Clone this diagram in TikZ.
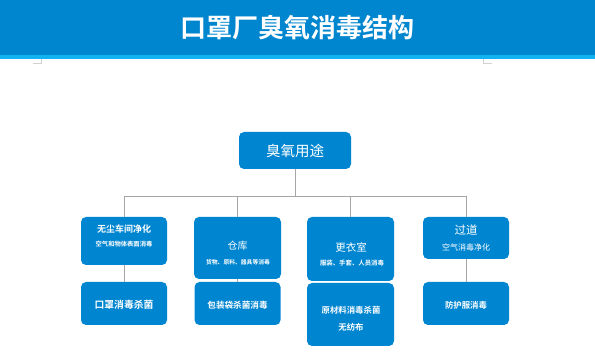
\documentclass[tikz,border=0pt]{standalone}
\usepackage{fontspec}
\setmainfont{Noto Sans CJK SC}
\newfontfamily\cjkb{Noto Sans CJK SC Bold}
\definecolor{boxblue}{HTML}{0086D1}
\definecolor{hdrblue}{HTML}{0086CF}
\definecolor{stripcyan}{HTML}{11B4F0}
\definecolor{linegray}{HTML}{A6A6A6}
\tikzset{
  bluebox/.style={fill=boxblue, draw=none, rounded corners=5pt, text=white, align=center, inner sep=0pt},
  conn/.style={draw=linegray, line width=0.8pt},
  wtxt/.style={text=white, inner sep=0pt},
}
\begin{document}
\begin{tikzpicture}[x=1pt,y=-1pt]
\useasboundingbox (0,0) rectangle (595,358);
\fill[white] (0,0) rectangle (595,358);
% header
\fill[hdrblue] (0,0) rectangle (595,55);
\fill[stripcyan] (0,55) rectangle (595,59);
\node[wtxt, font=\cjkb\fontsize{26}{26}\selectfont] (title) at (297,28) {口罩厂臭氧消毒结构};
% corner marks
\draw[gray!35, line width=0.6pt] (33,63) -- (41,63) -- (41,59);
\draw[gray!35, line width=0.6pt] (483,59) -- (483,63) -- (492,63);
% root
\node[bluebox, minimum width=112pt, minimum height=37pt, font=\fontsize{14.5}{15}\selectfont] (root) at (295,150.5) {臭氧用途};
% level 2 boxes
\node[bluebox, minimum width=86pt, minimum height=48pt] (b1) at (124,241) {};
\node[bluebox, minimum width=87pt, minimum height=62pt] (b2) at (237.5,248) {};
\node[bluebox, minimum width=87pt, minimum height=64pt] (b3) at (350.5,249) {};
\node[bluebox, minimum width=86pt, minimum height=42pt] (b4) at (466,238) {};
% level 3 boxes
\node[bluebox, minimum width=86pt, minimum height=43pt] (c1) at (124,303.5) {};
\node[bluebox, minimum width=86pt, minimum height=43pt] (c2) at (237.5,303.5) {};
\node[bluebox, minimum width=87pt, minimum height=63pt] (c3) at (350.5,314.5) {};
\node[bluebox, minimum width=86pt, minimum height=43pt] (c4) at (466,303.5) {};
% texts
\node[wtxt, font=\cjkb\fontsize{9}{9}\selectfont] (t1a) at (124,229) {无尘车间净化};
\node[wtxt, font=\cjkb\fontsize{6.3}{6.3}\selectfont] (t1b) at (124,244) {空气和物体表面消毒};
\node[wtxt, font=\fontsize{10}{10}\selectfont] (t2a) at (237.5,246) {仓库};
\node[wtxt, font=\cjkb\fontsize{5.8}{5.8}\selectfont] (t2b) at (238,262) {货物、原料、器具等消毒};
\node[wtxt, font=\fontsize{10.5}{10.5}\selectfont] (t3a) at (351,247) {更衣室};
\node[wtxt, font=\cjkb\fontsize{6.4}{6.4}\selectfont] (t3b) at (352,263) {服装、手套、人员消毒};
\node[wtxt, font=\fontsize{11.5}{11.5}\selectfont] (t4a) at (466,230) {过道};
\node[wtxt, font=\fontsize{8}{8}\selectfont] (t4b) at (466,247.5) {空气消毒净化};
\node[wtxt, font=\cjkb\fontsize{9.8}{9.8}\selectfont] (u1) at (124,305) {口罩消毒杀菌};
\node[wtxt, font=\cjkb\fontsize{8.6}{8.6}\selectfont] (u2) at (237.5,305) {包装袋杀菌消毒};
\node[wtxt, font=\cjkb\fontsize{8.4}{8.4}\selectfont] (u3a) at (351,310) {原材料消毒杀菌};
\node[wtxt, font=\cjkb\fontsize{8.4}{8.4}\selectfont] (u3b) at (351,327) {无纺布};
\node[wtxt, font=\cjkb\fontsize{8.4}{8.4}\selectfont] (u4) at (466,305) {防护服消毒};
% connectors
\coordinate (bus) at (295,196);
\draw[conn] (root.south) -- (bus);
\draw[conn] (b1.north |- bus) -- (b4.north |- bus);
\draw[conn] (b1.north |- bus) -- (b1.north);
\draw[conn] (b2.north |- bus) -- (b2.north);
\draw[conn] (b3.north |- bus) -- (b3.north);
\draw[conn] (b4.north |- bus) -- (b4.north);
\draw[conn] (b1.south) -- (c1.north);
\draw[conn] (b2.south) -- (c2.north);
\draw[conn] (b4.south) -- (c4.north);
\end{tikzpicture}
\end{document}
